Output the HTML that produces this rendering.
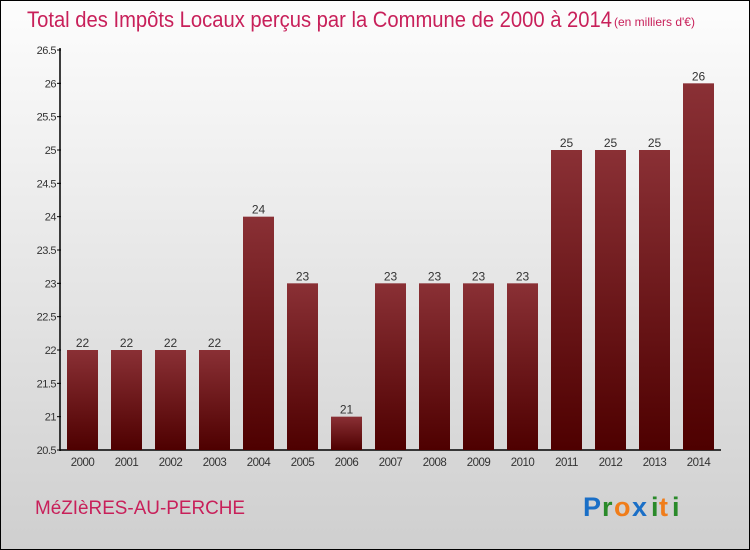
<!DOCTYPE html>
<html><head><meta charset="utf-8"><style>
html,body{margin:0;padding:0}
body{width:750px;height:550px;overflow:hidden;font-family:"Liberation Sans",sans-serif}
#frame{position:absolute;left:0;top:0;width:748px;height:548px;border:1px solid #000;background:linear-gradient(#fdfdfd,#cfcfcf)}
</style></head><body>
<div id="frame">
<svg width="750" height="550" style="position:absolute;left:-1px;top:-1px">
<defs><linearGradient id="bg" x1="0" y1="0" x2="0" y2="1"><stop offset="0" stop-color="#8a3035"/><stop offset="1" stop-color="#4e0000"/></linearGradient></defs>
<text x="27" y="27" font-size="22" fill="#c8205a" textLength="585" lengthAdjust="spacingAndGlyphs">Total des Impôts Locaux perçus par la Commune de 2000 à 2014</text>
<text x="614" y="26" font-size="12" fill="#c8205a">(en milliers d'€)</text>
<g id="axes"></g><g id="bars"></g>
<text x="35" y="514" font-size="19" fill="#c8205a" textLength="210" lengthAdjust="spacingAndGlyphs">MéZIèRES-AU-PERCHE</text>
<g font-size="27" font-weight="bold" font-family="Liberation Sans, sans-serif">
<text x="583" y="516" fill="#1a6fc7">P</text><text x="602" y="516" fill="#2a8a2a">r</text><text x="614" y="516" fill="#f07d1a">o</text><text x="632" y="516" fill="#1a6fc7">x</text><text x="651" y="516" fill="#2a8a2a">i</text><text x="659" y="516" fill="#f07d1a">t</text><text x="672" y="516" fill="#2a8a2a">i</text></g>
</svg></div>
<script>
const categories=["2000","2001","2002","2003","2004","2005","2006","2007","2008","2009","2010","2011","2012","2013","2014"];
const values=[22,22,22,22,24,23,21,23,23,23,23,25,25,25,26];
const valueLabels=["22","22","22","22","24","23","21","23","23","23","23","25","25","25","26"];
const yTicks=[20.5,21,21.5,22,22.5,23,23.5,24,24.5,25,25.5,26,26.5];
const NS="http://www.w3.org/2000/svg";
const y=v=>450-(v-20.5)*(400/6);
const x=i=>67+i*44;
const ax=document.getElementById('axes'),bg=document.getElementById('bars');
function mk(t,a,p){const e=document.createElementNS(NS,t);for(const k in a)e.setAttribute(k,a[k]);p.appendChild(e);return e;}
let l=mk('line',{x1:60,y1:48,x2:60,y2:451,stroke:'#000','stroke-width':1.5},ax);


l=mk('line',{x1:60,y1:450,x2:721,y2:450,stroke:'#000','stroke-width':1.5},ax);


yTicks.forEach(v=>{
 mk('line',{x1:57,y1:y(v),x2:61,y2:y(v),stroke:'#000'},ax);
 const t=mk('text',{x:56,y:y(v)+4,'font-size':11,fill:'#333','text-anchor':'end','letter-spacing':'-0.5'},ax);
 t.textContent=String(v);
 
 
});
categories.forEach((c,i)=>{
 const r=mk('rect',{x:x(i),y:y(values[i]),width:31,height:450-y(values[i]),fill:'url(#bg)'},bg);
 
 
 const t=mk('text',{x:x(i)+15.5,y:y(values[i])-3,'font-size':12,fill:'#333','text-anchor':'middle'},bg);
 t.textContent=valueLabels[i];
 
 
 const xt=mk('text',{x:x(i)+15.5,y:466,'font-size':11.5,fill:'#333','text-anchor':'middle','letter-spacing':'-0.5'},bg);
 xt.textContent=c;
 
 
});
</script>
</body></html>
